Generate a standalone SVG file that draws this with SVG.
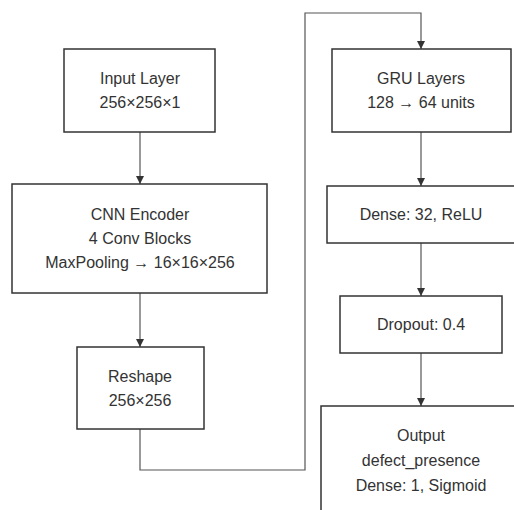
<svg xmlns="http://www.w3.org/2000/svg" width="514" height="510" viewBox="0 0 514 510">
<defs>
<marker id="arr" viewBox="0 0 10 10" refX="10" refY="5" markerWidth="8" markerHeight="8" markerUnits="userSpaceOnUse" orient="auto">
<path d="M0,0 L10,5 L0,10 z" fill="#333"/>
</marker>
</defs>
<style>
.box{fill:#fff;stroke:#333;stroke-width:1.5}
.lbl{font-family:"Liberation Sans",Arial,sans-serif;font-size:16px;fill:#333;text-anchor:middle}
.edge{fill:none;stroke:#555;stroke-width:1.2;marker-end:url(#arr)}
</style>
<rect width="514" height="510" fill="#fff"/>
<g id="connectors">
<path class="edge" d="M140,132 V184"/>
<path class="edge" d="M140,293 V347"/>
<path class="edge" d="M140,429 V470 H305 V13 H421 V49"/>
<path class="edge" d="M421,132 V186"/>
<path class="edge" d="M421,243 V296"/>
<path class="edge" d="M421,353 V406"/>
</g>
<g id="input">
<rect class="box" x="64" y="49" width="151" height="83"/>
<text class="lbl" x="140" y="84">Input Layer</text>
<text class="lbl" x="140" y="108">256×256×1</text>
</g>
<g id="cnn">
<rect class="box" x="12" y="184" width="255" height="109"/>
<text class="lbl" x="140" y="220">CNN Encoder</text>
<text class="lbl" x="140" y="244">4 Conv Blocks</text>
<text class="lbl" x="140" y="268">MaxPooling → 16×16×256</text>
</g>
<g id="reshape">
<rect class="box" x="77" y="347" width="127" height="82"/>
<text class="lbl" x="140" y="382">Reshape</text>
<text class="lbl" x="140" y="406">256×256</text>
</g>
<g id="gru">
<rect class="box" x="332" y="49" width="179" height="83"/>
<text class="lbl" x="421" y="84">GRU Layers</text>
<text class="lbl" x="421" y="108">128 → 64 units</text>
</g>
<g id="dense">
<rect class="box" x="327" y="186" width="188" height="57"/>
<text class="lbl" x="421" y="220">Dense: 32, ReLU</text>
</g>
<g id="dropout">
<rect class="box" x="340" y="296" width="162" height="57"/>
<text class="lbl" x="421" y="330">Dropout: 0.4</text>
</g>
<g id="output">
<rect class="box" x="321" y="406" width="200" height="110"/>
<text class="lbl" x="421" y="441">Output</text>
<text class="lbl" x="421" y="466">defect_presence</text>
<text class="lbl" x="421" y="491">Dense: 1, Sigmoid</text>
</g>
</svg>
